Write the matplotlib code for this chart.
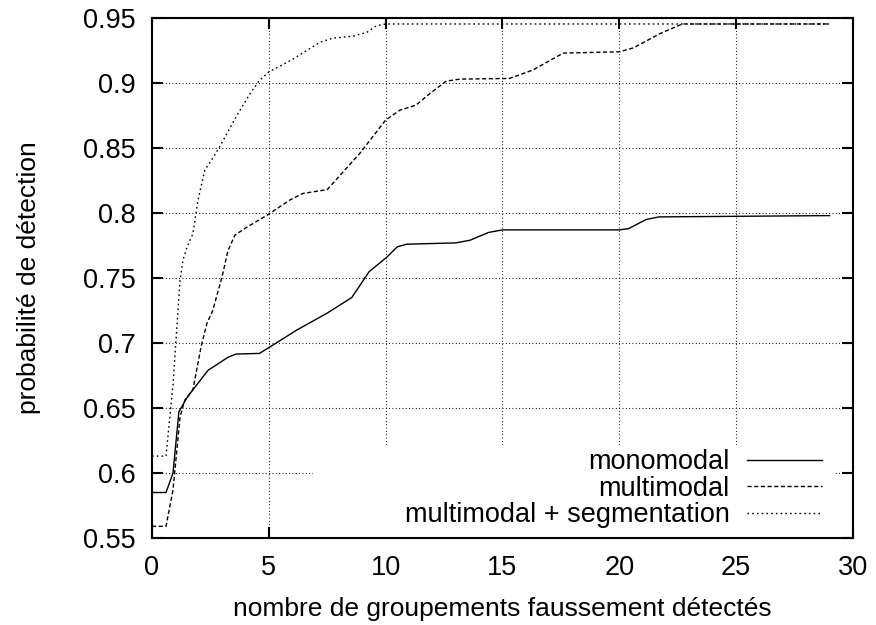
import matplotlib.pyplot as plt
from matplotlib.patches import Rectangle

plt.rcParams['font.family'] = ['Liberation Sans', 'DejaVu Sans']
plt.rcParams['font.size'] = 19.5

x_mono = [0, 0.6, 0.9, 1.15, 1.5, 1.75, 2.4, 3.25, 3.6, 4.6, 5.05, 6.2, 7.5, 8.55,
          9.3, 10.05, 10.5, 10.9, 13.0, 13.6, 14.4, 15.0, 20.0, 20.4, 21.15, 21.7, 29.0]
y_mono = [0.585, 0.585, 0.600, 0.647, 0.658, 0.664, 0.679, 0.689, 0.6915, 0.692, 0.697,
          0.710, 0.723, 0.735, 0.755, 0.766, 0.774, 0.776, 0.777, 0.779, 0.785, 0.787,
          0.787, 0.788, 0.795, 0.797, 0.798]

x_multi = [0, 0.6, 0.9, 1.2, 1.4, 1.75, 2.1, 2.35, 2.6, 3.0, 3.25, 3.55, 4.05, 4.9,
           5.9, 6.45, 7.5, 8.0, 8.9, 10.0, 10.6, 11.3, 11.9, 12.6, 13.2, 15.3, 16.3,
           17.6, 20.0, 20.6, 21.8, 22.7, 29.0]
y_multi = [0.559, 0.559, 0.587, 0.643, 0.656, 0.664, 0.697, 0.715, 0.725, 0.751, 0.771,
           0.783, 0.789, 0.798, 0.810, 0.815, 0.818, 0.828, 0.846, 0.8715, 0.879, 0.883,
           0.892, 0.9015, 0.903, 0.9035, 0.910, 0.923, 0.924, 0.927, 0.9385, 0.9454, 0.9454]

x_seg = [0, 0.6, 0.9, 1.0, 1.2, 1.33, 1.5, 1.75, 1.97, 2.26, 2.56, 2.9, 3.6, 4.2,
         4.6, 5.0, 6.0, 7.2, 7.75, 8.6, 9.2, 9.6, 10.0, 29.0]
y_seg = [0.613, 0.613, 0.668, 0.695, 0.748, 0.764, 0.774, 0.784, 0.810, 0.833, 0.841,
         0.851, 0.874, 0.892, 0.902, 0.9085, 0.918, 0.9315, 0.9345, 0.936, 0.939, 0.944,
         0.9454, 0.9454]

labels = ['monomodal', 'multimodal', 'multimodal + segmentation']
xticks = [0, 5, 10, 15, 20, 25, 30]
yticks = [0.55, 0.6, 0.65, 0.7, 0.75, 0.8, 0.85, 0.9, 0.95]

fig = plt.figure(figsize=(8.76, 6.25), dpi=100)
ax = fig.add_axes([0.1735, 0.1392, 0.8002, 0.832])

ax.set_axisbelow(True)
ax.grid(True, color='black', linestyle=(0, (0.8, 2.2)), linewidth=0.8)

# fond blanc de la legende qui coupe la grille
ax.add_patch(Rectangle((0.2297, 0), 0.745, 0.179, transform=ax.transAxes,
                       facecolor='white', edgecolor='none', zorder=1))

ax.plot(x_mono, y_mono, color='black', lw=1.0, label=labels[0], zorder=3)
ax.plot(x_multi, y_multi, color='black', lw=1.0, linestyle=(0, (3.0, 1.8)),
        label=labels[1], zorder=3)
ax.plot(x_seg, y_seg, color='black', lw=1.0, linestyle=(0, (1.2, 2.2)),
        label=labels[2], zorder=3)

ax.set_xlim(0, 30)
ax.set_ylim(0.55, 0.95)
ax.set_xticks(xticks)
ax.set_xticklabels([str(t) for t in xticks])
ax.set_yticks(yticks)
ax.set_yticklabels(['0.55', '0.6', '0.65', '0.7', '0.75', '0.8', '0.85', '0.9', '0.95'])
ax.tick_params(direction='in', length=8, width=1.5, top=True, right=True, pad=12)

for s in ax.spines.values():
    s.set_linewidth(1.5)

ax.set_xlabel('nombre de groupements faussement détectés', fontsize=19, labelpad=12)
ax.set_ylabel('probabilité de détection', fontsize=19, labelpad=30)

ax.legend(loc='lower right', bbox_to_anchor=(0.9558, 0.019), markerfirst=False,
          frameon=False, handlelength=2.77, handletextpad=0.63, labelspacing=0.02,
          borderpad=0, borderaxespad=0)

fig.savefig('out.png', dpi=100)
